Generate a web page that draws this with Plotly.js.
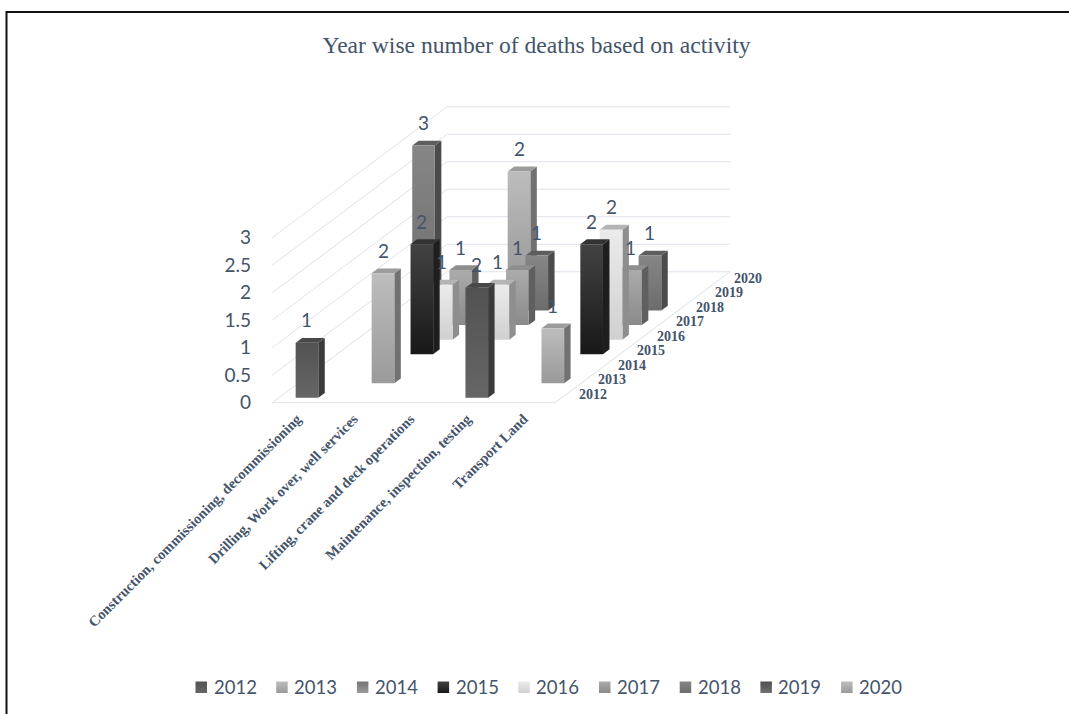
<!DOCTYPE html>
<html>
<head>
<meta charset="utf-8">
<title>Year wise number of deaths based on activity</title>
<script src="https://cdn.plot.ly/plotly-3.0.1.min.js"></script>
<style>
  html, body { margin: 0; padding: 0; background: #fff; }
  #chart { width: 1069px; height: 714px; }
</style>
</head>
<body>
<div id="chart"></div>
<script>
// Deaths per activity, one array per year
const categories = [
  "Construction, commissioning, decommissioning",
  "Drilling, Work over, well services",
  "Lifting, crane and deck operations",
  "Maintenance, inspection, testing",
  "Transport Land"
];
const years = ["2012", "2013", "2014", "2015", "2016", "2017", "2018", "2019", "2020"];
const deaths2012 = [1, 0, 0, 2, 0];
const deaths2013 = [0, 2, 0, 0, 1];
const deaths2014 = [0, 0, 0, 0, 0];
const deaths2015 = [0, 2, 0, 0, 2];
const deaths2016 = [0, 1, 1, 0, 2];
const deaths2017 = [0, 1, 1, 0, 1];
const deaths2018 = [3, 0, 1, 0, 1];
const deaths2019 = [0, 0, 0, 0, 0];
const deaths2020 = [0, 2, 0, 0, 0];
const deathsByYear = [deaths2012, deaths2013, deaths2014, deaths2015, deaths2016,
                      deaths2017, deaths2018, deaths2019, deaths2020];
const valueTicks = [0, 0.5, 1, 1.5, 2, 2.5, 3];

// Shades for each year: front face top and bottom, side face, top face
const frontTop    = ["#525252", "#bdbdbd", "#757575", "#424242", "#ebebeb", "#ababab", "#868686", "#4e4e4e", "#bdbdbd"];
const frontBottom = ["#666666", "#9a9a9a", "#9a9a9a", "#181818", "#d0d0d0", "#8a8a8a", "#6c6c6c", "#707070", "#9a9a9a"];
const sideShade   = ["#3b3b3b", "#717171", "#5a5a5a", "#1e1e1e", "#8e8e8e", "#5f5f5f", "#4b4b4b", "#3b3b3b", "#717171"];
const topShade    = ["#484848", "#9c9c9c", "#6e6e6e", "#333333", "#b4b4b4", "#8e8e8e", "#5e5e5e", "#484848", "#9c9c9c"];

const inkColor = "#44546a";
const gridColor = "#dfe2ec";
const W = 1069, H = 714;

// Oblique projection: each year row shifts the category and value axes by a fixed step
const pxPerCategory = 56.6, pxPerValue = 55;
const originX = 272.2, originY = 402.7;
const rowStepX = 19.43 / pxPerCategory;
const rowStepY = 14.55 / pxPerValue;
const project = (c, r, v) => [c + r * rowStepX, v + r * rowStepY];
const pxToX = px => (px - originX) / pxPerCategory;
const pxToY = py => (originY - py) / pxPerValue;

const barStart = 0.3, barEnd = 0.7, rowStart = 0.333, rowEnd = 0.667;

function polygon(corners) {
  const pts = corners.map(p => project(p[0], p[1], p[2]));
  pts.push(pts[0]);
  return { x: pts.map(p => p[0]), y: pts.map(p => p[1]) };
}
function face(corners, fill, low) {
  const t = Object.assign(polygon(corners), {
    type: "scatter", mode: "lines", line: { width: 0 }, fill: "toself",
    showlegend: false, hoverinfo: "skip"
  });
  if (low) {
    t.fillgradient = { type: "vertical", colorscale: [[0, low], [1, fill]] };
  } else {
    t.fillcolor = fill;
  }
  return t;
}

const traces = [];

// Wall and floor rules, running from the front of the left wall along the back wall
valueTicks.forEach(v => {
  const a = project(0, 0, v), b = project(0, 9, v), c = project(5, 9, v);
  traces.push({
    type: "scatter", mode: "lines", x: [a[0], b[0], c[0]], y: [a[1], b[1], c[1]],
    line: { color: gridColor, width: 1 }, showlegend: false, hoverinfo: "skip"
  });
});
{
  const a = project(0, 0, 0), b = project(5, 0, 0), c = project(5, 9, 0);
  traces.push({
    type: "scatter", mode: "lines", x: [a[0], b[0], c[0]], y: [a[1], b[1], c[1]],
    line: { color: gridColor, width: 1 }, showlegend: false, hoverinfo: "skip"
  });
}

// Columns, painted from the back row to the front row
const annotations = [];
for (let r = years.length - 1; r >= 0; r--) {
  categories.forEach((_, c) => {
    const v = deathsByYear[r][c];
    if (!v) return;
    const x0 = c + barStart, x1 = c + barEnd, d0 = r + rowStart, d1 = r + rowEnd;
    traces.push(face([[x1, d0, 0], [x1, d1, 0], [x1, d1, v], [x1, d0, v]], sideShade[r]));
    traces.push(face([[x0, d0, v], [x1, d0, v], [x1, d1, v], [x0, d1, v]], topShade[r]));
    traces.push(face([[x0, d0, 0], [x1, d0, 0], [x1, d0, v], [x0, d0, v]], frontTop[r], frontBottom[r]));
  });
}

// Value labels sit above the front face of each column
years.forEach((_, r) => {
  categories.forEach((_, c) => {
    const v = deathsByYear[r][c];
    if (!v) return;
    const p = project(c + (barStart + barEnd) / 2, r + rowStart, v);
    annotations.push({
      x: p[0], y: p[1], xref: "x", yref: "y", yshift: 23, text: String(v), showarrow: false,
      xanchor: "center", yanchor: "middle", font: { family: "Lato", size: 19, color: inkColor }
    });
  });
});

// Year labels along the right edge of the floor
years.forEach((year, r) => {
  const p = project(5, r + 0.5, 0);
  annotations.push({
    x: p[0], y: p[1], xref: "x", yref: "y", xshift: 28, yshift: 1, text: year, showarrow: false,
    xanchor: "center", yanchor: "middle",
    font: { family: "Liberation Serif", size: 14, weight: 700, color: inkColor }
  });
});

// Key along the bottom: swatch and year for every series
const keyStart = 195.5, keyStep = 80.7, keySize = 11.5, keyTop = 681.5;
years.forEach((year, r) => {
  const xa = pxToX(keyStart + r * keyStep), xb = pxToX(keyStart + r * keyStep + keySize);
  const ya = pxToY(keyTop), yb = pxToY(keyTop + keySize);
  traces.push({
    type: "scatter", mode: "lines", x: [xa, xb, xb, xa, xa], y: [yb, yb, ya, ya, yb],
    line: { width: 0 }, fill: "toself",
    fillgradient: { type: "vertical", colorscale: [[0, frontBottom[r]], [1, frontTop[r]]] },
    showlegend: false, hoverinfo: "skip"
  });
  annotations.push({
    x: pxToX(keyStart + r * keyStep + keySize + 4.5), y: pxToY(687), xref: "x", yref: "y",
    text: year, showarrow: false, xanchor: "left", yanchor: "middle",
    font: { family: "Lato", size: 18.5, color: inkColor }
  });
});

const layout = {
  width: W, height: H,
  margin: { l: 0, r: 0, t: 0, b: 0 },
  paper_bgcolor: "#ffffff", plot_bgcolor: "#ffffff",
  showlegend: false,
  title: {
    text: "Year wise number of deaths based on activity",
    x: 536.5 / W, xanchor: "center", xref: "paper",
    y: 1 - 45 / H, yanchor: "middle", yref: "container",
    font: { family: "Liberation Serif", size: 23.6, color: inkColor }
  },
  xaxis: {
    range: [pxToX(0), pxToX(W)], fixedrange: true,
    anchor: "free", position: (H - originY) / H,
    tickmode: "array", tickvals: categories.map((_, i) => i + 0.44), ticktext: categories,
    tickangle: -45, ticks: "", showgrid: false, zeroline: false, showline: false,
    ticklabelstandoff: 4,
    tickfont: { family: "Liberation Serif", size: 14.5, weight: 700, color: inkColor }
  },
  yaxis: {
    range: [pxToY(H), pxToY(0)], fixedrange: true,
    anchor: "free", position: 251 / W,
    tickmode: "array", tickvals: valueTicks, ticktext: valueTicks.map(String),
    ticks: "", showgrid: false, zeroline: false, showline: false,
    tickfont: { family: "Lato", size: 19, color: inkColor }
  },
  shapes: [
    { type: "line", xref: "paper", yref: "paper", x0: 6.5 / W, x1: 1, y0: 1 - 12 / H, y1: 1 - 12 / H,
      line: { color: "#111111", width: 2 } },
    { type: "line", xref: "paper", yref: "paper", x0: 6.5 / W, x1: 6.5 / W, y0: 0, y1: 1 - 11 / H,
      line: { color: "#111111", width: 2 } }
  ],
  annotations: annotations
};

Plotly.newPlot("chart", traces, layout, { displayModeBar: false, staticPlot: true });
</script>
</body>
</html>
